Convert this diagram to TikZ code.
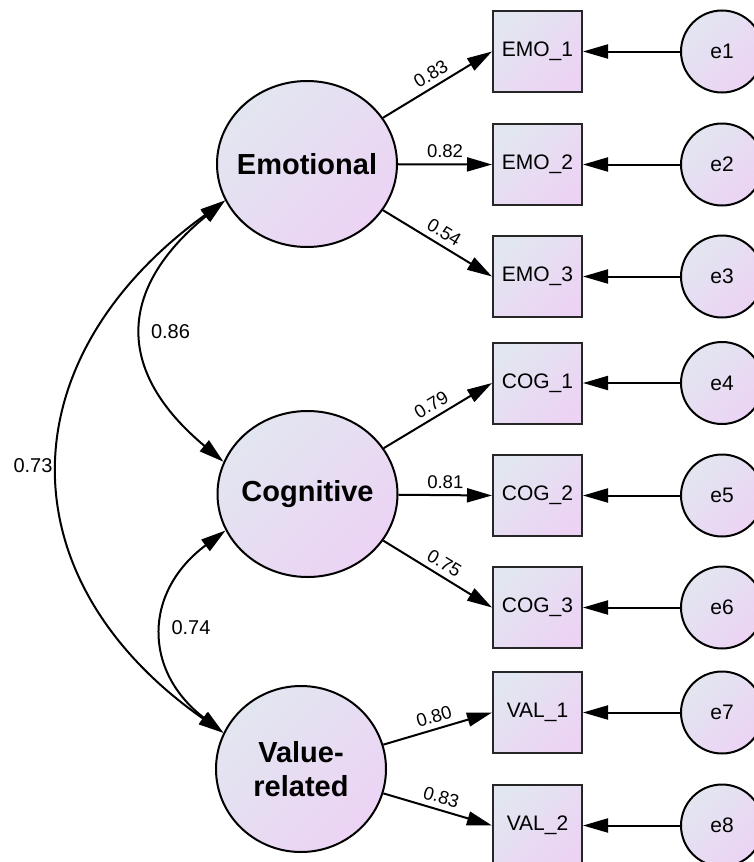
\documentclass[tikz,border=0pt]{standalone}
\usepackage{fontspec}
\setmainfont{Liberation Sans}
\usetikzlibrary{arrows.meta,shapes.geometric}
\definecolor{gA}{RGB}{226,230,240}
\definecolor{gB}{RGB}{236,211,244}
\begin{document}
\begin{tikzpicture}[x=1pt,y=-1pt,
  grad/.style={top color=gA,bottom color=gB,shading angle=45},
  latent/.style={ellipse,draw=black,line width=2pt,grad,inner xsep=-50pt,inner ysep=-20pt,align=center,font=\fontsize{29}{34}\selectfont\bfseries},
  obs/.style={rectangle,draw=black!85,line width=2pt,grad,minimum width=89pt,minimum height=81pt,inner sep=0pt,font=\fontsize{21}{24}\selectfont},
  err/.style={circle,draw=black,line width=2pt,grad,minimum size=82pt,inner sep=0pt,font=\fontsize{21}{24}\selectfont},
  arr/.style={line width=2pt,-{Triangle[length=25pt,width=14pt]}},
  biarr/.style={line width=2pt,{Triangle[length=25pt,width=14pt]}-{Triangle[length=25pt,width=14pt]}},
  load/.style={midway,above=2pt,sloped,font=\fontsize{18.5}{20}\selectfont},
  corr/.style={font=\fontsize{20}{24}\selectfont}
]
\clip (0,0) rectangle (754,862);

% latent variables
\node[latent,minimum width=180pt,minimum height=166pt] (emo) at (307,164) {Emotional};
\node[latent,minimum width=180pt,minimum height=166pt] (cog) at (307.5,494) {Cognitive};
\node[latent,minimum width=170pt,minimum height=166pt] (val) at (301,769) {Value-\\related};

% observed variables
\node[obs] (emo1) at (537.5,51.5) {EMO\_1};
\node[obs] (emo2) at (537.5,164.5) {EMO\_2};
\node[obs] (emo3) at (537.5,276.5) {EMO\_3};
\node[obs] (cog1) at (537.5,383) {COG\_1};
\node[obs] (cog2) at (537.5,495.5) {COG\_2};
\node[obs] (cog3) at (537.5,607.5) {COG\_3};
\node[obs] (val1) at (537.5,712.5) {VAL\_1};
\node[obs] (val2) at (537.5,825.5) {VAL\_2};

% error terms
\node[err] (e1) at (722,51.5) {e1};
\node[err] (e2) at (722,164.5) {e2};
\node[err] (e3) at (722,276.5) {e3};
\node[err] (e4) at (722,383) {e4};
\node[err] (e5) at (722,495.5) {e5};
\node[err] (e6) at (722,607.5) {e6};
\node[err] (e7) at (722,712.5) {e7};
\node[err] (e8) at (722,825.5) {e8};

% loadings
\draw[arr] (emo) -- node[load] {0.83} (emo1.west);
\draw[arr] (emo) -- node[load] {0.82} (emo2.west);
\draw[arr] (emo) -- node[load] {0.54} (emo3.west);
\draw[arr] (cog) -- node[load] {0.79} (cog1.west);
\draw[arr] (cog) -- node[load] {0.81} (cog2.west);
\draw[arr] (cog) -- node[load] {0.75} (cog3.west);
\draw[arr] (val) -- node[load] {0.80} (val1.west);
\draw[arr] (val) -- node[load] {0.83} (val2.west);

% error arrows
\foreach \e/\o in {e1/emo1,e2/emo2,e3/emo3,e4/cog1,e5/cog2,e6/cog3,e7/val1,e8/val2}
  \draw[arr] (\e) -- (\o);

% correlations
\draw[biarr] (emo.204) .. controls (116,290) and (116,372) .. (cog.159);
\draw[biarr] (emo.204) .. controls (5,360) and (5,580) .. (val.155);
\draw[biarr] (cog.204) .. controls (143,592) and (143,671) .. (val.155);

\node[corr] (c86) at (170.5,332) {0.86};
\node[corr] (c73) at (33,466) {0.73};
\node[corr] (c74) at (191,628) {0.74};
\end{tikzpicture}
\end{document}
